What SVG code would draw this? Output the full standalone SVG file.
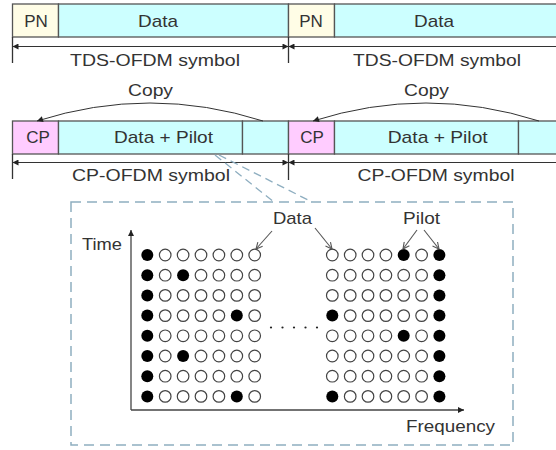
<svg xmlns="http://www.w3.org/2000/svg" width="556" height="450" viewBox="0 0 556 450">
<style>
text{font-family:"Liberation Sans",Arial,sans-serif;font-size:17px;fill:#333;text-anchor:middle}
.box{stroke:#555;stroke-width:1.3}
.pn{fill:#fffde6}
.data{fill:#ccffff}
.cp{fill:#ffccff}
.dim{stroke:#333;stroke-width:1;fill:none}
.tick{stroke:#333;stroke-width:1.3}
.dash{stroke:#8eaec0;stroke-width:1.5;fill:none;stroke-dasharray:10 6}
.axis{stroke:#444;stroke-width:1.3;fill:none}
.lbl{stroke:#555;stroke-width:1.1;fill:none}
.f{fill:#000}
.o{fill:#fff;stroke:#444;stroke-width:1.2}
</style>
<defs>
<marker id="ah" viewBox="0 0 10 10" refX="10" refY="5" markerWidth="7" markerHeight="6" orient="auto-start-reverse" markerUnits="userSpaceOnUse">
<path d="M0,0 L10,5 L0,10 z" fill="#222"/>
</marker>
<marker id="va" viewBox="0 0 10 10" refX="9" refY="5" markerWidth="8" markerHeight="8" orient="auto" markerUnits="userSpaceOnUse">
<path d="M1,1 L9,5 L1,9" fill="none" stroke="#555" stroke-width="1.4"/>
</marker>
<g id="o"><circle r="5.8" class="o"/></g>
<g id="f"><circle r="6" class="f"/></g>
</defs>

<g id="tds-symbol-1">
<rect class="box pn" x="12.5" y="4" width="46" height="33"/>
<rect class="box data" x="58.5" y="4" width="230" height="33"/>
<text x="36" y="27">PN</text>
<text x="158" y="27" textLength="40" lengthAdjust="spacingAndGlyphs">Data</text>
<text x="155" y="66" textLength="170" lengthAdjust="spacingAndGlyphs">TDS-OFDM symbol</text>
</g>
<g id="tds-symbol-2">
<rect class="box pn" x="288.5" y="4" width="46" height="33"/>
<rect class="box data" x="334.5" y="4" width="230" height="33"/>
<text x="311" y="27">PN</text>
<text x="434" y="27" textLength="40" lengthAdjust="spacingAndGlyphs">Data</text>
<text x="437" y="66" textLength="168" lengthAdjust="spacingAndGlyphs">TDS-OFDM symbol</text>
</g>

<g id="cp-symbol-1">
<rect class="box cp" x="12.5" y="121" width="46" height="33"/>
<rect class="box data" x="58.5" y="121" width="184" height="33"/>
<rect class="box data" x="242.5" y="121" width="46" height="33"/>
<text x="38" y="143">CP</text>
<text x="163.5" y="143" textLength="99" lengthAdjust="spacingAndGlyphs">Data + Pilot</text>
<text x="150.5" y="96" textLength="45" lengthAdjust="spacingAndGlyphs">Copy</text>
<text x="151" y="181" textLength="158" lengthAdjust="spacingAndGlyphs">CP-OFDM symbol</text>
</g>
<g id="cp-symbol-2">
<rect class="box cp" x="288.5" y="121" width="46" height="33"/>
<rect class="box data" x="334.5" y="121" width="184" height="33"/>
<rect class="box data" x="518.5" y="121" width="46" height="33"/>
<text x="312" y="143">CP</text>
<text x="437.7" y="143" textLength="100" lengthAdjust="spacingAndGlyphs">Data + Pilot</text>
<text x="426.5" y="96" textLength="45" lengthAdjust="spacingAndGlyphs">Copy</text>
<text x="436" y="181" textLength="157" lengthAdjust="spacingAndGlyphs">CP-OFDM symbol</text>
</g>

<g id="detail">
<rect class="dash" x="71" y="202" width="442" height="243"/>
<text x="102" y="250" textLength="40" lengthAdjust="spacingAndGlyphs">Time</text>
<text x="292.5" y="224" textLength="39" lengthAdjust="spacingAndGlyphs">Data</text>
<text x="421.5" y="224" textLength="37" lengthAdjust="spacingAndGlyphs">Pilot</text>
<text x="450.5" y="431.5" textLength="89" lengthAdjust="spacingAndGlyphs">Frequency</text>
<g id="grid-left">
<use href="#f" x="147.3" y="255"/><use href="#o" x="165.2" y="255"/><use href="#o" x="183.1" y="255"/><use href="#o" x="201" y="255"/><use href="#o" x="218.9" y="255"/><use href="#o" x="236.8" y="255"/><use href="#o" x="254.7" y="255"/>
<use href="#f" x="147.3" y="275.2"/><use href="#o" x="165.2" y="275.2"/><use href="#f" x="183.1" y="275.2"/><use href="#o" x="201" y="275.2"/><use href="#o" x="218.9" y="275.2"/><use href="#o" x="236.8" y="275.2"/><use href="#o" x="254.7" y="275.2"/>
<use href="#f" x="147.3" y="295.4"/><use href="#o" x="165.2" y="295.4"/><use href="#o" x="183.1" y="295.4"/><use href="#o" x="201" y="295.4"/><use href="#o" x="218.9" y="295.4"/><use href="#o" x="236.8" y="295.4"/><use href="#o" x="254.7" y="295.4"/>
<use href="#f" x="147.3" y="315.6"/><use href="#o" x="165.2" y="315.6"/><use href="#o" x="183.1" y="315.6"/><use href="#o" x="201" y="315.6"/><use href="#o" x="218.9" y="315.6"/><use href="#f" x="236.8" y="315.6"/><use href="#o" x="254.7" y="315.6"/>
<use href="#f" x="147.3" y="335.8"/><use href="#o" x="165.2" y="335.8"/><use href="#o" x="183.1" y="335.8"/><use href="#o" x="201" y="335.8"/><use href="#o" x="218.9" y="335.8"/><use href="#o" x="236.8" y="335.8"/><use href="#o" x="254.7" y="335.8"/>
<use href="#f" x="147.3" y="356"/><use href="#o" x="165.2" y="356"/><use href="#f" x="183.1" y="356"/><use href="#o" x="201" y="356"/><use href="#o" x="218.9" y="356"/><use href="#o" x="236.8" y="356"/><use href="#o" x="254.7" y="356"/>
<use href="#f" x="147.3" y="376.2"/><use href="#o" x="165.2" y="376.2"/><use href="#o" x="183.1" y="376.2"/><use href="#o" x="201" y="376.2"/><use href="#o" x="218.9" y="376.2"/><use href="#o" x="236.8" y="376.2"/><use href="#o" x="254.7" y="376.2"/>
<use href="#f" x="147.3" y="396.4"/><use href="#o" x="165.2" y="396.4"/><use href="#o" x="183.1" y="396.4"/><use href="#o" x="201" y="396.4"/><use href="#o" x="218.9" y="396.4"/><use href="#f" x="236.8" y="396.4"/><use href="#o" x="254.7" y="396.4"/>
</g>
<g id="grid-right">
<use href="#o" x="332.3" y="255"/><use href="#o" x="350.2" y="255"/><use href="#o" x="368" y="255"/><use href="#o" x="385.9" y="255"/><use href="#f" x="403.7" y="255"/><use href="#o" x="421.6" y="255"/><use href="#f" x="439.4" y="255"/>
<use href="#o" x="332.3" y="275.2"/><use href="#o" x="350.2" y="275.2"/><use href="#o" x="368" y="275.2"/><use href="#o" x="385.9" y="275.2"/><use href="#o" x="403.7" y="275.2"/><use href="#o" x="421.6" y="275.2"/><use href="#f" x="439.4" y="275.2"/>
<use href="#o" x="332.3" y="295.4"/><use href="#o" x="350.2" y="295.4"/><use href="#o" x="368" y="295.4"/><use href="#o" x="385.9" y="295.4"/><use href="#o" x="403.7" y="295.4"/><use href="#o" x="421.6" y="295.4"/><use href="#f" x="439.4" y="295.4"/>
<use href="#f" x="332.3" y="315.6"/><use href="#o" x="350.2" y="315.6"/><use href="#o" x="368" y="315.6"/><use href="#o" x="385.9" y="315.6"/><use href="#o" x="403.7" y="315.6"/><use href="#o" x="421.6" y="315.6"/><use href="#f" x="439.4" y="315.6"/>
<use href="#o" x="332.3" y="335.8"/><use href="#o" x="350.2" y="335.8"/><use href="#o" x="368" y="335.8"/><use href="#o" x="385.9" y="335.8"/><use href="#f" x="403.7" y="335.8"/><use href="#o" x="421.6" y="335.8"/><use href="#f" x="439.4" y="335.8"/>
<use href="#o" x="332.3" y="356"/><use href="#o" x="350.2" y="356"/><use href="#o" x="368" y="356"/><use href="#o" x="385.9" y="356"/><use href="#o" x="403.7" y="356"/><use href="#o" x="421.6" y="356"/><use href="#f" x="439.4" y="356"/>
<use href="#o" x="332.3" y="376.2"/><use href="#o" x="350.2" y="376.2"/><use href="#o" x="368" y="376.2"/><use href="#o" x="385.9" y="376.2"/><use href="#o" x="403.7" y="376.2"/><use href="#o" x="421.6" y="376.2"/><use href="#f" x="439.4" y="376.2"/>
<use href="#f" x="332.3" y="396.4"/><use href="#o" x="350.2" y="396.4"/><use href="#o" x="368" y="396.4"/><use href="#o" x="385.9" y="396.4"/><use href="#o" x="403.7" y="396.4"/><use href="#o" x="421.6" y="396.4"/><use href="#f" x="439.4" y="396.4"/>
</g>
<g id="ellipsis" fill="#222">
<circle cx="271" cy="327.5" r="1.1"/><circle cx="282.5" cy="327.5" r="1.1"/><circle cx="294" cy="327.5" r="1.1"/><circle cx="305.5" cy="327.5" r="1.1"/><circle cx="317" cy="327.5" r="1.1"/>
</g>
</g>

<g id="connectors">
<line class="dim" x1="12.5" y1="46.5" x2="288.5" y2="46.5" marker-start="url(#ah)" marker-end="url(#ah)"/>
<line class="dim" x1="288.5" y1="46.5" x2="570" y2="46.5" marker-start="url(#ah)"/>
<line class="tick" x1="12.5" y1="37" x2="12.5" y2="63"/>
<line class="tick" x1="288.5" y1="37" x2="288.5" y2="63"/>
<line class="dim" x1="12.5" y1="162.5" x2="288.5" y2="162.5" marker-start="url(#ah)" marker-end="url(#ah)"/>
<line class="dim" x1="288.5" y1="162.5" x2="570" y2="162.5" marker-start="url(#ah)"/>
<line class="tick" x1="12.5" y1="154" x2="12.5" y2="179"/>
<line class="tick" x1="288.5" y1="154" x2="288.5" y2="180"/>
<path class="dim" d="M263,121 Q150,85 37,121" marker-end="url(#ah)"/>
<path class="dim" d="M539,121 Q426,85 313,121" marker-end="url(#ah)"/>
<line class="dash" style="stroke-dasharray:8 5;stroke-width:1.3" x1="215" y1="155" x2="274" y2="202"/>
<line class="dash" style="stroke-dasharray:8 5;stroke-width:1.3" x1="219" y1="155" x2="312" y2="202"/>
<line class="axis" x1="131" y1="410" x2="131" y2="230" marker-end="url(#ah)"/>
<line class="axis" x1="131" y1="410" x2="464" y2="410" marker-end="url(#ah)"/>
<line class="lbl" x1="272" y1="231" x2="256" y2="249" marker-end="url(#va)"/>
<line class="lbl" x1="315" y1="228" x2="332" y2="249" marker-end="url(#va)"/>
<line class="lbl" x1="417" y1="230" x2="403" y2="249" marker-end="url(#va)"/>
<line class="lbl" x1="424" y1="230" x2="439" y2="249" marker-end="url(#va)"/>
</g>
</svg>
